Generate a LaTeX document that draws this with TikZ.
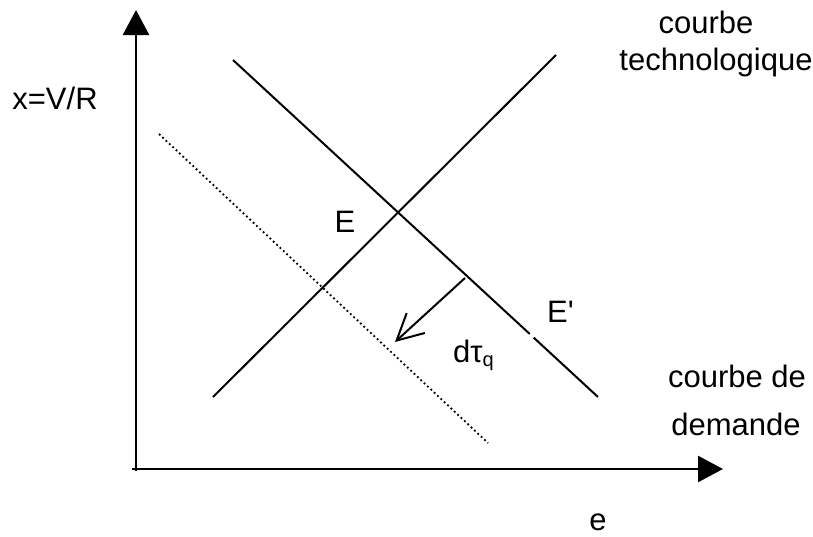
\documentclass[tikz,border=0pt]{standalone}
\usepackage{fontspec}
\setmainfont{Liberation Sans}
\usetikzlibrary{arrows.meta,calc}
\begin{document}
\begin{tikzpicture}[x=1pt,y=-1pt,
  axisline/.style={line width=2.6pt,-{Triangle[length=25pt,width=26pt]}},
  curveline/.style={line width=2pt},
  dotline/.style={line width=1.8pt,dash pattern=on 1.8pt off 2.8pt},
  shiftarrow/.style={line width=2pt,-{Straight Barb[length=26pt,width=27pt]}},
  lbl/.style={font=\fontsize{31}{36}\selectfont,inner sep=0pt}]
\useasboundingbox (0,0) rectangle (813,536);
% axes
\coordinate (ybot) at (136,471);
\coordinate (ytip) at (136,10);
\coordinate (xleft) at (132,469);
\coordinate (xtip) at (723,469);
\draw[axisline] (ybot) -- (ytip);
\draw[axisline] (xleft) -- (xtip);
% technological curve (rising)
\coordinate (t1) at (213,397);
\coordinate (t2) at (556,55);
\draw[curveline] (t1) -- (t2);
% demand curve (falling), with a small gap near E'
\coordinate (d1) at (233,60);
\coordinate (d2) at (598,397);
\coordinate (g1) at ($(d1)!0.813!(d2)$);
\coordinate (g2) at ($(d1)!0.824!(d2)$);
\draw[curveline] (d1) -- (g1);
\draw[curveline] (g2) -- (d2);
% shifted demand curve (dotted)
\coordinate (s1) at (159,134);
\coordinate (s2) at (488,443);
\draw[dotline] (s1) -- (s2);
% shift arrow
\coordinate (a1) at (465,278);
\coordinate (a2) at (395,342);
\draw[shiftarrow] (a1) -- (a2);
% labels
\node[lbl,anchor=base] (yl) at (55,109) {x=V/R};
\node[lbl,anchor=base] (ct1) at (706,33) {courbe};
\node[lbl,anchor=base] (ct2) at (716,70) {technologique};
\node[lbl,anchor=base] (cd1) at (737,387) {courbe de};
\node[lbl,anchor=base] (cd2) at (736,435) {demande};
\node[lbl,anchor=base] (E) at (345,232) {E};
\node[lbl,anchor=base west] (Ep) at (547,322) {E\textquotesingle};
\node[lbl,anchor=base west] (dt) at (453,362) {d\char"03C4\raisebox{-0.3ex}{\fontsize{20}{23}\selectfont q}};
\node[lbl,anchor=base] (e) at (598,530) {e};
\end{tikzpicture}
\end{document}
